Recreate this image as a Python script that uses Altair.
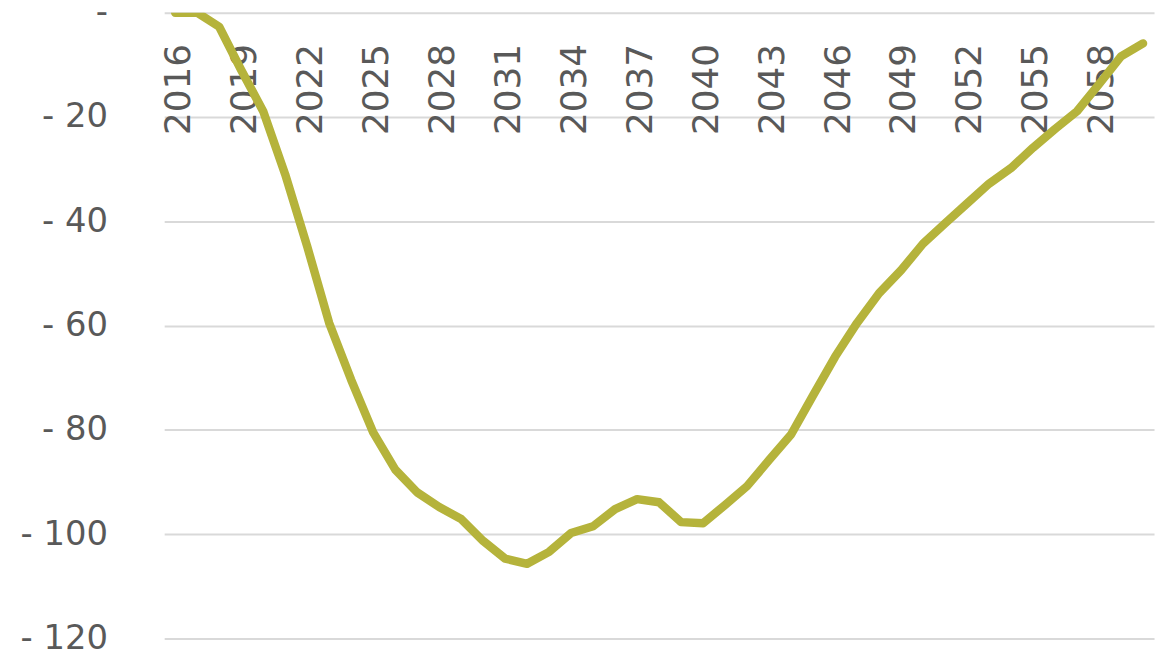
import altair as alt
import pandas as pd

years = list(range(2016, 2061))
values = [
    0.0, 0.0, -2.7, -11.0, -18.9, -31.0, -44.8, -59.5, -70.4, -80.5,
    -87.6, -92.0, -94.8, -97.1, -101.3, -104.7, -105.7, -103.4, -99.8, -98.5,
    -95.2, -93.3, -93.9, -97.7, -97.9, -94.4, -90.8, -85.8, -80.9, -73.4,
    -66.0, -59.5, -53.8, -49.4, -44.3, -40.4, -36.6, -32.8, -29.8, -25.9,
    -22.3, -18.9, -13.7, -8.4, -5.9,
]
x_ticks = list(range(2016, 2059, 3))
y_ticks = [0, -20, -40, -60, -80, -100, -120]

df = pd.DataFrame({"year": years, "value": values})

W, H = 995, 629
FONT = "DejaVu Sans"
TXT = "#595959"

chart = (
    alt.Chart(df)
    .mark_line(color="#B5B33B", strokeWidth=8.5, strokeCap="round", strokeJoin="round", clip=True)
    .encode(
        x=alt.X(
            "year:Q",
            scale=alt.Scale(domain=[2015.5, 2060.5], nice=False, zero=False),
            axis=alt.Axis(
                orient="bottom",
                offset=-H,
                values=x_ticks,
                format="d",
                labelAngle=270,
                labelAlign="right",
                labelBaseline="middle",
                labelPadding=31,
                labelOffset=3,
                labelFont=FONT,
                labelFontSize=36,
                labelColor=TXT,
                labelOverlap=False,
                labelFlush=False,
                grid=False,
                domain=False,
                ticks=False,
                title=None,
            ),
        ),
        y=alt.Y(
            "value:Q",
            scale=alt.Scale(domain=[-120, 0], nice=False),
            axis=alt.Axis(
                values=y_ticks,
                labelExpr="datum.value == 0 ? '-\u2007' : '- ' + format(abs(datum.value), 'd')",
                labelPadding=57,
                labelFont=FONT,
                labelFontSize=34,
                labelColor=TXT,
                labelOverlap=False,
                labelFlush=False,
                grid=True,
                gridColor="#D9D9D9",
                gridWidth=2,
                domain=False,
                ticks=False,
                title=None,
            ),
        ),
    )
    .properties(
        width=W,
        height=H,
        autosize=alt.AutoSizeParams(type="none"),
        padding={"left": 157, "top": 3, "right": 5, "bottom": 15},
    )
    .configure(background="white")
    .configure_view(strokeWidth=0, stroke="transparent")
)

chart.save("out.html", embed_options={"renderer": "svg", "actions": False})
